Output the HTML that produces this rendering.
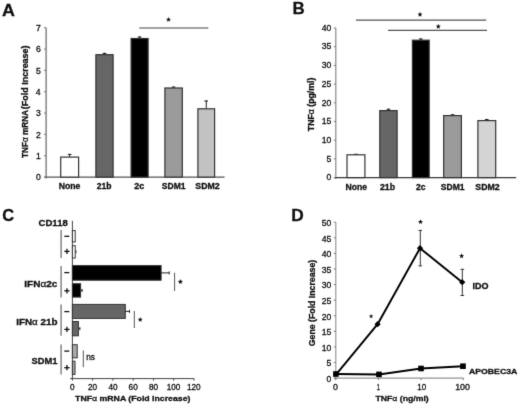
<!DOCTYPE html>
<html><head><meta charset="utf-8"><style>
html,body{margin:0;padding:0;background:#fff;}
svg{display:block;font-family:"Liberation Sans", sans-serif;filter:grayscale(1);}
</style></head><body>
<svg width="520" height="406" viewBox="0 0 520 406">
<defs><filter id="soft" x="0" y="0" width="520" height="406" filterUnits="userSpaceOnUse" color-interpolation-filters="sRGB"><feConvolveMatrix order="3" kernelMatrix="1 8 1 8 64 8 1 8 1" divisor="100" edgeMode="duplicate"/></filter></defs>
<g filter="url(#soft)">
<rect width="520" height="406" fill="#fff"/>
<text transform="translate(2.05,15.80)" font-size="17.00" font-weight="bold" fill="#111" stroke="#111" stroke-width="0.3" textLength="12.93" lengthAdjust="spacingAndGlyphs">A</text>
<text transform="translate(292.56,13.80)" font-size="17.00" font-weight="bold" fill="#111" stroke="#111" stroke-width="0.3" textLength="12.19" lengthAdjust="spacingAndGlyphs">B</text>
<text transform="translate(2.34,221.33)" font-size="17.00" font-weight="bold" fill="#111" stroke="#111" stroke-width="0.3" textLength="11.91" lengthAdjust="spacingAndGlyphs">C</text>
<text transform="translate(291.23,220.50)" font-size="17.00" font-weight="bold" fill="#111" stroke="#111" stroke-width="0.3" textLength="12.50" lengthAdjust="spacingAndGlyphs">D</text>
<line x1="46.10" y1="27.70" x2="46.10" y2="178.60" stroke="#666" stroke-width="1.2"/>
<line x1="44.60" y1="177.10" x2="224.60" y2="177.10" stroke="#555" stroke-width="1.2"/>
<line x1="44.00" y1="177.10" x2="46.10" y2="177.10" stroke="#7a7a7a" stroke-width="1"/>
<text transform="translate(35.95,180.26)" font-size="8.60" font-weight="normal" fill="#111" stroke="#111" stroke-width="0.3" textLength="4.78" lengthAdjust="spacingAndGlyphs">0</text>
<line x1="44.00" y1="155.76" x2="46.10" y2="155.76" stroke="#7a7a7a" stroke-width="1"/>
<text transform="translate(36.04,158.91)" font-size="8.60" font-weight="normal" fill="#111" stroke="#111" stroke-width="0.3" textLength="4.78" lengthAdjust="spacingAndGlyphs">1</text>
<line x1="44.00" y1="134.41" x2="46.10" y2="134.41" stroke="#7a7a7a" stroke-width="1"/>
<text transform="translate(36.06,137.61)" font-size="8.60" font-weight="normal" fill="#111" stroke="#111" stroke-width="0.3" textLength="4.78" lengthAdjust="spacingAndGlyphs">2</text>
<line x1="44.00" y1="113.07" x2="46.10" y2="113.07" stroke="#7a7a7a" stroke-width="1"/>
<text transform="translate(35.99,116.23)" font-size="8.60" font-weight="normal" fill="#111" stroke="#111" stroke-width="0.3" textLength="4.78" lengthAdjust="spacingAndGlyphs">3</text>
<line x1="44.00" y1="91.73" x2="46.10" y2="91.73" stroke="#7a7a7a" stroke-width="1"/>
<text transform="translate(35.86,94.88)" font-size="8.60" font-weight="normal" fill="#111" stroke="#111" stroke-width="0.3" textLength="4.78" lengthAdjust="spacingAndGlyphs">4</text>
<line x1="44.00" y1="70.39" x2="46.10" y2="70.39" stroke="#7a7a7a" stroke-width="1"/>
<text transform="translate(35.97,73.50)" font-size="8.60" font-weight="normal" fill="#111" stroke="#111" stroke-width="0.3" textLength="4.78" lengthAdjust="spacingAndGlyphs">5</text>
<line x1="44.00" y1="49.04" x2="46.10" y2="49.04" stroke="#7a7a7a" stroke-width="1"/>
<text transform="translate(35.99,52.20)" font-size="8.60" font-weight="normal" fill="#111" stroke="#111" stroke-width="0.3" textLength="4.78" lengthAdjust="spacingAndGlyphs">6</text>
<line x1="44.00" y1="27.70" x2="46.10" y2="27.70" stroke="#7a7a7a" stroke-width="1"/>
<text transform="translate(36.06,30.86)" font-size="8.60" font-weight="normal" fill="#111" stroke="#111" stroke-width="0.3" textLength="4.78" lengthAdjust="spacingAndGlyphs">7</text>
<line x1="69.65" y1="154.40" x2="69.65" y2="157.10" stroke="#222" stroke-width="1"/>
<line x1="67.85" y1="154.40" x2="71.45" y2="154.40" stroke="#222" stroke-width="1.1"/>
<rect x="60.70" y="157.10" width="17.90" height="20.00" fill="#fff" stroke="#333" stroke-width="1.2"/>
<text transform="translate(58.71,189.01)" font-size="8.60" font-weight="bold" fill="#111" stroke="#111" stroke-width="0.3" textLength="21.67" lengthAdjust="spacingAndGlyphs">None</text>
<line x1="104.50" y1="52.90" x2="104.50" y2="54.60" stroke="#222" stroke-width="1"/>
<line x1="102.70" y1="53.40" x2="106.30" y2="53.40" stroke="#222" stroke-width="1.1"/>
<rect x="95.90" y="54.70" width="17.20" height="122.40" fill="#666" stroke="#333" stroke-width="1.2"/>
<text transform="translate(96.80,189.01)" font-size="8.60" font-weight="bold" fill="#111" stroke="#111" stroke-width="0.3" textLength="14.75" lengthAdjust="spacingAndGlyphs">21b</text>
<line x1="139.60" y1="36.50" x2="139.60" y2="38.40" stroke="#222" stroke-width="1"/>
<line x1="137.80" y1="37.00" x2="141.40" y2="37.00" stroke="#222" stroke-width="1.1"/>
<rect x="131.10" y="38.50" width="17.00" height="138.60" fill="#000" stroke="#333" stroke-width="1.2"/>
<text transform="translate(134.28,189.01)" font-size="8.60" font-weight="bold" fill="#111" stroke="#111" stroke-width="0.3" textLength="10.09" lengthAdjust="spacingAndGlyphs">2c</text>
<line x1="173.60" y1="86.60" x2="173.60" y2="87.90" stroke="#222" stroke-width="1"/>
<line x1="171.80" y1="87.10" x2="175.40" y2="87.10" stroke="#222" stroke-width="1.1"/>
<rect x="164.90" y="88.00" width="17.40" height="89.10" fill="#9b9b9b" stroke="#333" stroke-width="1.2"/>
<text transform="translate(161.74,189.01)" font-size="8.60" font-weight="bold" fill="#111" stroke="#111" stroke-width="0.3" textLength="23.80" lengthAdjust="spacingAndGlyphs">SDM1</text>
<line x1="206.25" y1="100.50" x2="206.25" y2="108.70" stroke="#222" stroke-width="1"/>
<line x1="204.45" y1="101.00" x2="208.05" y2="101.00" stroke="#222" stroke-width="1.1"/>
<rect x="197.90" y="108.80" width="16.70" height="68.30" fill="#c2c2c2" stroke="#333" stroke-width="1.2"/>
<text transform="translate(195.34,189.01)" font-size="8.60" font-weight="bold" fill="#111" stroke="#111" stroke-width="0.3" textLength="24.32" lengthAdjust="spacingAndGlyphs">SDM2</text>
<line x1="139.30" y1="27.90" x2="208.30" y2="27.90" stroke="#808080" stroke-width="1.5"/>
<polygon points="168.50,16.90 169.18,18.67 171.07,18.77 169.59,19.96 170.09,21.78 168.50,20.75 166.91,21.78 167.41,19.96 165.93,18.77 167.82,18.67" fill="#111"/>
<text transform="translate(27.62,157.98) rotate(-90)" font-size="8.40" font-weight="bold" fill="#111" stroke="#111" stroke-width="0.3" textLength="48.01" lengthAdjust="spacingAndGlyphs">TNF<tspan font-weight="normal">α</tspan> mRNA</text>
<text transform="translate(27.72,109.15) rotate(-90)" font-size="8.40" font-weight="bold" fill="#111" stroke="#111" stroke-width="0.3" textLength="63.70" lengthAdjust="spacingAndGlyphs">(Fold Increase)</text>
<line x1="335.80" y1="27.80" x2="335.80" y2="179.10" stroke="#8a8a8a" stroke-width="1.2"/>
<line x1="334.30" y1="177.60" x2="516.20" y2="177.60" stroke="#3a3a3a" stroke-width="1.1"/>
<line x1="333.80" y1="177.60" x2="335.80" y2="177.60" stroke="#7a7a7a" stroke-width="1"/>
<text transform="translate(326.45,180.36)" font-size="8.60" font-weight="normal" fill="#111" stroke="#111" stroke-width="0.3" textLength="4.78" lengthAdjust="spacingAndGlyphs">0</text>
<line x1="333.80" y1="158.90" x2="335.80" y2="158.90" stroke="#7a7a7a" stroke-width="1"/>
<text transform="translate(326.47,161.61)" font-size="8.60" font-weight="normal" fill="#111" stroke="#111" stroke-width="0.3" textLength="4.78" lengthAdjust="spacingAndGlyphs">5</text>
<line x1="333.80" y1="140.20" x2="335.80" y2="140.20" stroke="#7a7a7a" stroke-width="1"/>
<text transform="translate(321.68,142.96)" font-size="8.60" font-weight="normal" fill="#111" stroke="#111" stroke-width="0.3" textLength="9.57" lengthAdjust="spacingAndGlyphs">10</text>
<line x1="333.80" y1="121.50" x2="335.80" y2="121.50" stroke="#7a7a7a" stroke-width="1"/>
<text transform="translate(321.70,124.21)" font-size="8.60" font-weight="normal" fill="#111" stroke="#111" stroke-width="0.3" textLength="9.57" lengthAdjust="spacingAndGlyphs">15</text>
<line x1="333.80" y1="102.80" x2="335.80" y2="102.80" stroke="#7a7a7a" stroke-width="1"/>
<text transform="translate(321.68,105.56)" font-size="8.60" font-weight="normal" fill="#111" stroke="#111" stroke-width="0.3" textLength="9.57" lengthAdjust="spacingAndGlyphs">20</text>
<line x1="333.80" y1="84.10" x2="335.80" y2="84.10" stroke="#7a7a7a" stroke-width="1"/>
<text transform="translate(321.70,86.86)" font-size="8.60" font-weight="normal" fill="#111" stroke="#111" stroke-width="0.3" textLength="9.57" lengthAdjust="spacingAndGlyphs">25</text>
<line x1="333.80" y1="65.40" x2="335.80" y2="65.40" stroke="#7a7a7a" stroke-width="1"/>
<text transform="translate(321.68,68.16)" font-size="8.60" font-weight="normal" fill="#111" stroke="#111" stroke-width="0.3" textLength="9.57" lengthAdjust="spacingAndGlyphs">30</text>
<line x1="333.80" y1="46.70" x2="335.80" y2="46.70" stroke="#7a7a7a" stroke-width="1"/>
<text transform="translate(321.70,49.46)" font-size="8.60" font-weight="normal" fill="#111" stroke="#111" stroke-width="0.3" textLength="9.57" lengthAdjust="spacingAndGlyphs">35</text>
<line x1="333.80" y1="28.00" x2="335.80" y2="28.00" stroke="#7a7a7a" stroke-width="1"/>
<text transform="translate(321.68,30.76)" font-size="8.60" font-weight="normal" fill="#111" stroke="#111" stroke-width="0.3" textLength="9.57" lengthAdjust="spacingAndGlyphs">40</text>
<line x1="355.95" y1="154.30" x2="355.95" y2="154.80" stroke="#222" stroke-width="1"/>
<line x1="354.15" y1="154.30" x2="357.75" y2="154.30" stroke="#222" stroke-width="1.1"/>
<rect x="347.00" y="154.80" width="17.90" height="22.80" fill="#fff" stroke="#333" stroke-width="1.2"/>
<text transform="translate(345.52,189.51)" font-size="8.60" font-weight="bold" fill="#111" stroke="#111" stroke-width="0.3" textLength="21.56" lengthAdjust="spacingAndGlyphs">None</text>
<line x1="388.45" y1="108.75" x2="388.45" y2="110.50" stroke="#222" stroke-width="1"/>
<line x1="386.65" y1="109.25" x2="390.25" y2="109.25" stroke="#222" stroke-width="1.1"/>
<rect x="379.80" y="110.60" width="17.30" height="67.00" fill="#666" stroke="#333" stroke-width="1.2"/>
<text transform="translate(379.99,189.51)" font-size="8.60" font-weight="bold" fill="#111" stroke="#111" stroke-width="0.3" textLength="15.06" lengthAdjust="spacingAndGlyphs">21b</text>
<line x1="420.80" y1="38.50" x2="420.80" y2="40.10" stroke="#222" stroke-width="1"/>
<line x1="419.00" y1="39.00" x2="422.60" y2="39.00" stroke="#222" stroke-width="1.1"/>
<rect x="412.40" y="40.20" width="16.80" height="137.40" fill="#000" stroke="#333" stroke-width="1.2"/>
<text transform="translate(415.90,189.51)" font-size="8.60" font-weight="bold" fill="#111" stroke="#111" stroke-width="0.3" textLength="9.56" lengthAdjust="spacingAndGlyphs">2c</text>
<line x1="452.55" y1="114.30" x2="452.55" y2="115.50" stroke="#222" stroke-width="1"/>
<line x1="450.75" y1="114.80" x2="454.35" y2="114.80" stroke="#222" stroke-width="1.1"/>
<rect x="443.70" y="115.60" width="17.70" height="62.00" fill="#9b9b9b" stroke="#333" stroke-width="1.2"/>
<text transform="translate(440.84,189.51)" font-size="8.60" font-weight="bold" fill="#111" stroke="#111" stroke-width="0.3" textLength="23.70" lengthAdjust="spacingAndGlyphs">SDM1</text>
<line x1="486.80" y1="119.00" x2="486.80" y2="120.50" stroke="#222" stroke-width="1"/>
<line x1="485.00" y1="119.50" x2="488.60" y2="119.50" stroke="#222" stroke-width="1.1"/>
<rect x="477.90" y="120.60" width="17.80" height="57.00" fill="#d4d4d4" stroke="#333" stroke-width="1.2"/>
<text transform="translate(475.34,189.51)" font-size="8.60" font-weight="bold" fill="#111" stroke="#111" stroke-width="0.3" textLength="24.32" lengthAdjust="spacingAndGlyphs">SDM2</text>
<line x1="355.90" y1="20.20" x2="486.20" y2="20.20" stroke="#555" stroke-width="1.2"/>
<line x1="387.90" y1="30.40" x2="487.00" y2="30.40" stroke="#555" stroke-width="1.2"/>
<polygon points="420.00,11.80 420.68,13.57 422.57,13.67 421.09,14.86 421.59,16.68 420.00,15.65 418.41,16.68 418.91,14.86 417.43,13.67 419.32,13.57" fill="#111"/>
<polygon points="438.30,23.80 438.98,25.57 440.87,25.67 439.39,26.86 439.89,28.68 438.30,27.65 436.71,28.68 437.21,26.86 435.73,25.67 437.62,25.57" fill="#111"/>
<text transform="translate(314.38,131.19) rotate(-90)" font-size="8.30" font-weight="bold" fill="#111" stroke="#111" stroke-width="0.3" textLength="53.62" lengthAdjust="spacingAndGlyphs">TNF<tspan font-weight="normal">α</tspan> (pg/ml)</text>
<line x1="72.40" y1="220.80" x2="72.40" y2="378.60" stroke="#444" stroke-width="1"/>
<line x1="70.20" y1="378.60" x2="194.20" y2="378.60" stroke="#444" stroke-width="1"/>
<line x1="72.40" y1="378.60" x2="72.40" y2="380.60" stroke="#444" stroke-width="1"/>
<text transform="translate(70.11,389.62)" font-size="8.20" font-weight="normal" fill="#111" stroke="#111" stroke-width="0.3" textLength="4.56" lengthAdjust="spacingAndGlyphs">0</text>
<line x1="92.67" y1="378.60" x2="92.67" y2="380.60" stroke="#444" stroke-width="1"/>
<text transform="translate(88.06,389.62)" font-size="8.20" font-weight="normal" fill="#111" stroke="#111" stroke-width="0.3" textLength="9.12" lengthAdjust="spacingAndGlyphs">20</text>
<line x1="112.93" y1="378.60" x2="112.93" y2="380.60" stroke="#444" stroke-width="1"/>
<text transform="translate(108.44,389.62)" font-size="8.20" font-weight="normal" fill="#111" stroke="#111" stroke-width="0.3" textLength="9.12" lengthAdjust="spacingAndGlyphs">40</text>
<line x1="133.20" y1="378.60" x2="133.20" y2="380.60" stroke="#444" stroke-width="1"/>
<text transform="translate(128.60,389.62)" font-size="8.20" font-weight="normal" fill="#111" stroke="#111" stroke-width="0.3" textLength="9.12" lengthAdjust="spacingAndGlyphs">60</text>
<line x1="153.47" y1="378.60" x2="153.47" y2="380.60" stroke="#444" stroke-width="1"/>
<text transform="translate(148.90,389.62)" font-size="8.20" font-weight="normal" fill="#111" stroke="#111" stroke-width="0.3" textLength="9.12" lengthAdjust="spacingAndGlyphs">80</text>
<line x1="173.73" y1="378.60" x2="173.73" y2="380.60" stroke="#444" stroke-width="1"/>
<text transform="translate(166.74,389.62)" font-size="8.20" font-weight="normal" fill="#111" stroke="#111" stroke-width="0.3" textLength="13.68" lengthAdjust="spacingAndGlyphs">100</text>
<line x1="194.00" y1="378.60" x2="194.00" y2="380.60" stroke="#444" stroke-width="1"/>
<text transform="translate(187.01,389.62)" font-size="8.20" font-weight="normal" fill="#111" stroke="#111" stroke-width="0.3" textLength="13.68" lengthAdjust="spacingAndGlyphs">120</text>
<rect x="72.40" y="230.60" width="2.80" height="11.30" fill="#fff" stroke="#333" stroke-width="1"/>
<line x1="75.20" y1="251.85" x2="75.90" y2="251.85" stroke="#222" stroke-width="1"/>
<line x1="75.90" y1="250.35" x2="75.90" y2="253.35" stroke="#222" stroke-width="1"/>
<rect x="72.40" y="245.70" width="2.80" height="12.30" fill="#fff" stroke="#333" stroke-width="1"/>
<line x1="161.10" y1="272.90" x2="169.20" y2="272.90" stroke="#222" stroke-width="1"/>
<line x1="169.20" y1="271.40" x2="169.20" y2="274.40" stroke="#222" stroke-width="1"/>
<rect x="72.40" y="265.60" width="88.70" height="14.60" fill="#000" stroke="#333" stroke-width="1"/>
<line x1="80.60" y1="290.40" x2="82.10" y2="290.40" stroke="#222" stroke-width="1"/>
<line x1="82.10" y1="288.90" x2="82.10" y2="291.90" stroke="#222" stroke-width="1"/>
<rect x="72.40" y="283.70" width="8.20" height="13.40" fill="#000" stroke="#333" stroke-width="1"/>
<line x1="125.30" y1="311.40" x2="129.50" y2="311.40" stroke="#222" stroke-width="1"/>
<line x1="129.50" y1="309.90" x2="129.50" y2="312.90" stroke="#222" stroke-width="1"/>
<rect x="72.40" y="304.40" width="52.90" height="14.00" fill="#666" stroke="#333" stroke-width="1"/>
<line x1="78.40" y1="328.65" x2="79.90" y2="328.65" stroke="#222" stroke-width="1"/>
<line x1="79.90" y1="327.15" x2="79.90" y2="330.15" stroke="#222" stroke-width="1"/>
<rect x="72.40" y="321.50" width="6.00" height="14.30" fill="#666" stroke="#333" stroke-width="1"/>
<rect x="72.40" y="344.70" width="4.80" height="13.10" fill="#aaa" stroke="#333" stroke-width="1"/>
<rect x="72.40" y="361.20" width="2.60" height="13.20" fill="#aaa" stroke="#333" stroke-width="1"/>
<line x1="61.10" y1="230.10" x2="61.10" y2="258.00" stroke="#666" stroke-width="1.2"/>
<line x1="64.30" y1="236.30" x2="69.30" y2="236.30" stroke="#111" stroke-width="1.3"/>
<line x1="64.30" y1="251.40" x2="69.60" y2="251.40" stroke="#111" stroke-width="1.3"/>
<line x1="66.95" y1="248.80" x2="66.95" y2="254.00" stroke="#111" stroke-width="1.3"/>
<line x1="61.10" y1="266.10" x2="61.10" y2="297.40" stroke="#666" stroke-width="1.2"/>
<line x1="64.30" y1="272.60" x2="69.30" y2="272.60" stroke="#111" stroke-width="1.3"/>
<line x1="64.30" y1="290.80" x2="69.60" y2="290.80" stroke="#111" stroke-width="1.3"/>
<line x1="66.95" y1="288.20" x2="66.95" y2="293.40" stroke="#111" stroke-width="1.3"/>
<line x1="61.10" y1="304.40" x2="61.10" y2="335.70" stroke="#666" stroke-width="1.2"/>
<line x1="64.30" y1="311.60" x2="69.30" y2="311.60" stroke="#111" stroke-width="1.3"/>
<line x1="64.30" y1="329.40" x2="69.60" y2="329.40" stroke="#111" stroke-width="1.3"/>
<line x1="66.95" y1="326.80" x2="66.95" y2="332.00" stroke="#111" stroke-width="1.3"/>
<line x1="61.10" y1="344.40" x2="61.10" y2="374.40" stroke="#666" stroke-width="1.2"/>
<line x1="64.30" y1="351.10" x2="69.30" y2="351.10" stroke="#111" stroke-width="1.3"/>
<line x1="64.30" y1="367.70" x2="69.60" y2="367.70" stroke="#111" stroke-width="1.3"/>
<line x1="66.95" y1="365.10" x2="66.95" y2="370.30" stroke="#111" stroke-width="1.3"/>
<text transform="translate(38.52,226.01)" font-size="9.40" font-weight="bold" fill="#111" stroke="#111" stroke-width="0.3" textLength="29.27" lengthAdjust="spacingAndGlyphs">CD118</text>
<text transform="translate(24.32,286.81)" font-size="9.40" font-weight="bold" fill="#111" stroke="#111" stroke-width="0.3" textLength="33.07" lengthAdjust="spacingAndGlyphs">IFN<tspan font-weight="normal">α</tspan>2c</text>
<text transform="translate(16.24,324.51)" font-size="9.40" font-weight="bold" fill="#111" stroke="#111" stroke-width="0.3" textLength="41.26" lengthAdjust="spacingAndGlyphs">IFN<tspan font-weight="normal">α</tspan> 21b</text>
<text transform="translate(31.42,364.11)" font-size="9.40" font-weight="bold" fill="#111" stroke="#111" stroke-width="0.3" textLength="25.94" lengthAdjust="spacingAndGlyphs">SDM1</text>
<line x1="174.60" y1="272.70" x2="174.60" y2="291.00" stroke="#555" stroke-width="1"/>
<polygon points="180.40,279.10 181.08,280.87 182.97,280.97 181.49,282.16 181.99,283.98 180.40,282.95 178.81,283.98 179.31,282.16 177.83,280.97 179.72,280.87" fill="#111"/>
<line x1="134.30" y1="311.00" x2="134.30" y2="328.00" stroke="#555" stroke-width="1"/>
<polygon points="140.20,316.90 140.88,318.67 142.77,318.77 141.29,319.96 141.79,321.78 140.20,320.75 138.61,321.78 139.11,319.96 137.63,318.77 139.52,318.67" fill="#111"/>
<line x1="83.30" y1="350.50" x2="83.30" y2="367.20" stroke="#555" stroke-width="1"/>
<text transform="translate(86.24,360.42)" font-size="8.50" font-weight="normal" fill="#111" stroke="#111" stroke-width="0.3" textLength="8.76" lengthAdjust="spacingAndGlyphs">ns</text>
<text transform="translate(75.11,401.04)" font-size="8.00" font-weight="bold" fill="#111" stroke="#111" stroke-width="0.3" textLength="115.32" lengthAdjust="spacingAndGlyphs">TNF<tspan font-weight="normal">α</tspan> mRNA (Fold Increase)</text>
<line x1="335.80" y1="222.20" x2="335.80" y2="379.60" stroke="#999" stroke-width="1.2"/>
<line x1="334.30" y1="378.10" x2="463.30" y2="378.10" stroke="#777" stroke-width="1.0"/>
<line x1="333.80" y1="378.10" x2="335.80" y2="378.10" stroke="#7a7a7a" stroke-width="1"/>
<text transform="translate(326.55,381.86)" font-size="8.60" font-weight="normal" fill="#111" stroke="#111" stroke-width="0.3" textLength="4.78" lengthAdjust="spacingAndGlyphs">0</text>
<line x1="333.80" y1="362.51" x2="335.80" y2="362.51" stroke="#7a7a7a" stroke-width="1"/>
<text transform="translate(326.57,366.22)" font-size="8.60" font-weight="normal" fill="#111" stroke="#111" stroke-width="0.3" textLength="4.78" lengthAdjust="spacingAndGlyphs">5</text>
<line x1="333.80" y1="346.92" x2="335.80" y2="346.92" stroke="#7a7a7a" stroke-width="1"/>
<text transform="translate(321.78,350.68)" font-size="8.60" font-weight="normal" fill="#111" stroke="#111" stroke-width="0.3" textLength="9.57" lengthAdjust="spacingAndGlyphs">10</text>
<line x1="333.80" y1="331.33" x2="335.80" y2="331.33" stroke="#7a7a7a" stroke-width="1"/>
<text transform="translate(321.80,335.04)" font-size="8.60" font-weight="normal" fill="#111" stroke="#111" stroke-width="0.3" textLength="9.57" lengthAdjust="spacingAndGlyphs">15</text>
<line x1="333.80" y1="315.74" x2="335.80" y2="315.74" stroke="#7a7a7a" stroke-width="1"/>
<text transform="translate(321.78,319.50)" font-size="8.60" font-weight="normal" fill="#111" stroke="#111" stroke-width="0.3" textLength="9.57" lengthAdjust="spacingAndGlyphs">20</text>
<line x1="333.80" y1="300.15" x2="335.80" y2="300.15" stroke="#7a7a7a" stroke-width="1"/>
<text transform="translate(321.80,303.91)" font-size="8.60" font-weight="normal" fill="#111" stroke="#111" stroke-width="0.3" textLength="9.57" lengthAdjust="spacingAndGlyphs">25</text>
<line x1="333.80" y1="284.56" x2="335.80" y2="284.56" stroke="#7a7a7a" stroke-width="1"/>
<text transform="translate(321.78,288.32)" font-size="8.60" font-weight="normal" fill="#111" stroke="#111" stroke-width="0.3" textLength="9.57" lengthAdjust="spacingAndGlyphs">30</text>
<line x1="333.80" y1="268.97" x2="335.80" y2="268.97" stroke="#7a7a7a" stroke-width="1"/>
<text transform="translate(321.80,272.73)" font-size="8.60" font-weight="normal" fill="#111" stroke="#111" stroke-width="0.3" textLength="9.57" lengthAdjust="spacingAndGlyphs">35</text>
<line x1="333.80" y1="253.38" x2="335.80" y2="253.38" stroke="#7a7a7a" stroke-width="1"/>
<text transform="translate(321.78,257.14)" font-size="8.60" font-weight="normal" fill="#111" stroke="#111" stroke-width="0.3" textLength="9.57" lengthAdjust="spacingAndGlyphs">40</text>
<line x1="333.80" y1="237.79" x2="335.80" y2="237.79" stroke="#7a7a7a" stroke-width="1"/>
<text transform="translate(321.80,241.50)" font-size="8.60" font-weight="normal" fill="#111" stroke="#111" stroke-width="0.3" textLength="9.57" lengthAdjust="spacingAndGlyphs">45</text>
<line x1="333.80" y1="222.20" x2="335.80" y2="222.20" stroke="#7a7a7a" stroke-width="1"/>
<text transform="translate(321.78,225.96)" font-size="8.60" font-weight="normal" fill="#111" stroke="#111" stroke-width="0.3" textLength="9.57" lengthAdjust="spacingAndGlyphs">50</text>
<line x1="335.80" y1="378.10" x2="335.80" y2="380.10" stroke="#7a7a7a" stroke-width="1"/>
<line x1="378.50" y1="378.10" x2="378.50" y2="380.10" stroke="#7a7a7a" stroke-width="1"/>
<line x1="421.00" y1="378.10" x2="421.00" y2="380.10" stroke="#7a7a7a" stroke-width="1"/>
<line x1="463.30" y1="378.10" x2="463.30" y2="380.10" stroke="#7a7a7a" stroke-width="1"/>
<text transform="translate(333.05,389.52)" font-size="8.30" font-weight="normal" fill="#111" stroke="#111" stroke-width="0.3" textLength="4.89" lengthAdjust="spacingAndGlyphs">0</text>
<text transform="translate(376.68,389.60)" font-size="8.30" font-weight="normal" fill="#111" stroke="#111" stroke-width="0.3" textLength="3.09" lengthAdjust="spacingAndGlyphs">1</text>
<text transform="translate(417.30,389.52)" font-size="8.30" font-weight="normal" fill="#111" stroke="#111" stroke-width="0.3" textLength="8.92" lengthAdjust="spacingAndGlyphs">10</text>
<text transform="translate(455.13,389.52)" font-size="8.30" font-weight="normal" fill="#111" stroke="#111" stroke-width="0.3" textLength="14.81" lengthAdjust="spacingAndGlyphs">100</text>
<polyline points="336.4,374.2 377.6,324.2 420.0,248.2 462.2,282.2" fill="none" stroke="#000" stroke-width="1.95" stroke-linejoin="round"/>
<polyline points="335.9,374.0 379.0,374.4 421.0,368.5 463.0,366.2" fill="none" stroke="#000" stroke-width="2.0"/>
<line x1="420.30" y1="230.40" x2="420.30" y2="265.90" stroke="#333" stroke-width="1"/>
<line x1="418.50" y1="230.40" x2="422.10" y2="230.40" stroke="#333" stroke-width="1"/>
<line x1="418.50" y1="265.90" x2="422.10" y2="265.90" stroke="#333" stroke-width="1"/>
<line x1="462.30" y1="269.30" x2="462.30" y2="295.50" stroke="#333" stroke-width="1"/>
<line x1="460.50" y1="269.30" x2="464.10" y2="269.30" stroke="#333" stroke-width="1"/>
<line x1="460.50" y1="295.50" x2="464.10" y2="295.50" stroke="#333" stroke-width="1"/>
<rect x="375.40000000000003" y="322.0" width="4.4" height="4.4" fill="#000" transform="rotate(45 377.6 324.2)"/>
<rect x="417.8" y="246.0" width="4.4" height="4.4" fill="#000" transform="rotate(45 420.0 248.2)"/>
<rect x="460.0" y="280.0" width="4.4" height="4.4" fill="#000" transform="rotate(45 462.2 282.2)"/>
<rect x="333.09999999999997" y="371.2" width="5.6" height="5.6" fill="#000"/>
<rect x="376.2" y="371.59999999999997" width="5.6" height="5.6" fill="#000"/>
<rect x="418.2" y="365.7" width="5.6" height="5.6" fill="#000"/>
<rect x="460.2" y="363.4" width="5.6" height="5.6" fill="#000"/>
<polygon points="371.10,313.90 371.69,315.49 373.38,315.56 372.05,316.61 372.51,318.24 371.10,317.30 369.69,318.24 370.15,316.61 368.82,315.56 370.51,315.49" fill="#111"/>
<polygon points="420.50,219.20 421.18,220.97 423.07,221.07 421.59,222.26 422.09,224.08 420.50,223.05 418.91,224.08 419.41,222.26 417.93,221.07 419.82,220.97" fill="#111"/>
<polygon points="461.60,253.30 462.28,255.07 464.17,255.17 462.69,256.36 463.19,258.18 461.60,257.15 460.01,258.18 460.51,256.36 459.03,255.17 460.92,255.07" fill="#111"/>
<text transform="translate(472.49,289.02)" font-size="8.40" font-weight="bold" fill="#111" stroke="#111" stroke-width="0.3" textLength="15.99" lengthAdjust="spacingAndGlyphs">IDO</text>
<text transform="translate(468.98,373.80)" font-size="8.00" font-weight="bold" fill="#111" stroke="#111" stroke-width="0.3" textLength="48.35" lengthAdjust="spacingAndGlyphs">APOBEC3A</text>
<text transform="translate(375.41,401.00)" font-size="8.00" font-weight="bold" fill="#111" stroke="#111" stroke-width="0.3" textLength="53.32" lengthAdjust="spacingAndGlyphs">TNF<tspan font-weight="normal">α</tspan> (ng/ml)</text>
<text transform="translate(314.62,346.25) rotate(-90)" font-size="8.70" font-weight="bold" fill="#111" stroke="#111" stroke-width="0.3" textLength="86.48" lengthAdjust="spacingAndGlyphs">Gene (Fold Increase)</text>
</g>
</svg>
</body></html>
